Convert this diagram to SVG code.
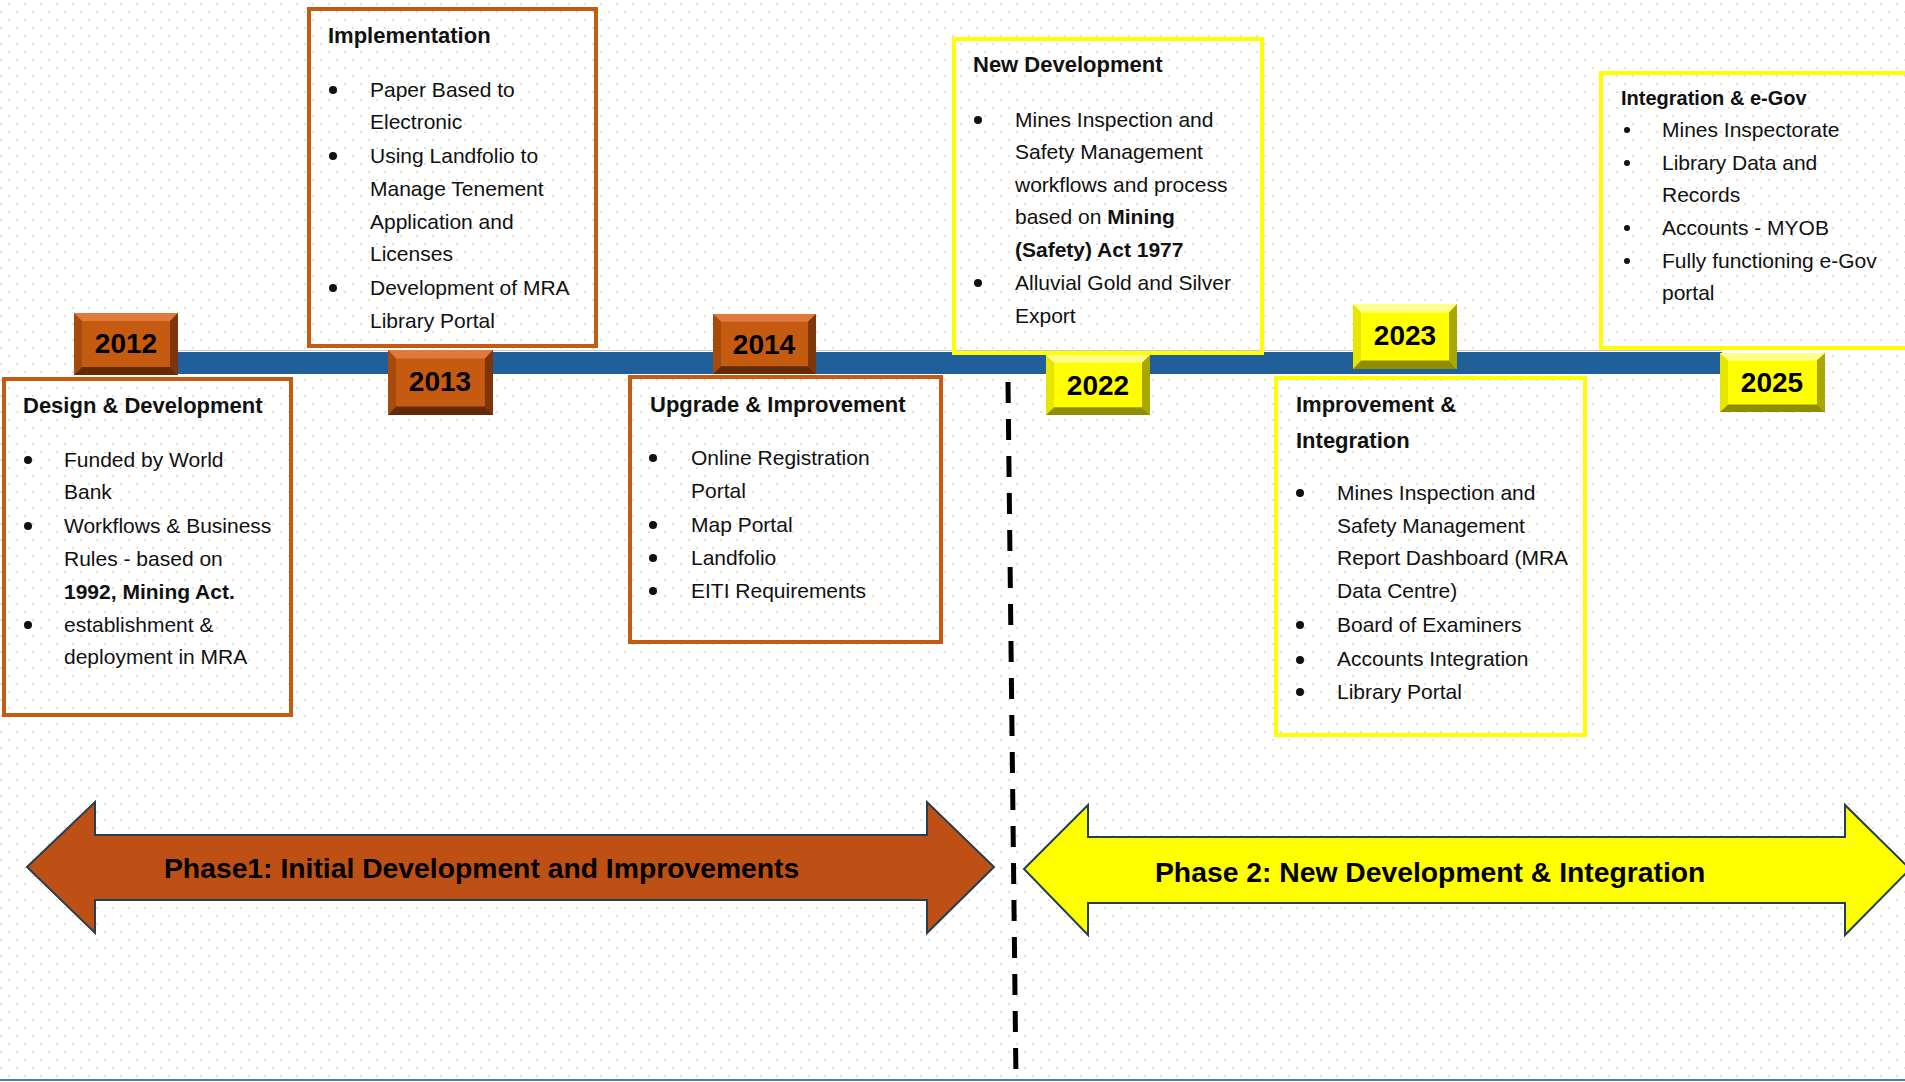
<svg xmlns="http://www.w3.org/2000/svg" width="1905" height="1082" viewBox="0 0 1905 1082">
<style>
.t{font-family:"Liberation Sans",Arial,sans-serif;font-size:21px;fill:#111}
.h{font-family:"Liberation Sans",Arial,sans-serif;font-size:22px;font-weight:bold;fill:#111}
.b{font-weight:bold}
.yr{font-family:"Liberation Sans",Arial,sans-serif;font-size:28px;font-weight:bold;fill:#000;text-anchor:middle}
.ph{font-family:"Liberation Sans",Arial,sans-serif;font-size:28.3px;font-weight:bold;fill:#000}
.ob{fill:none;stroke:#C55A11;stroke-width:4}
.yb{fill:none;stroke:#FFFF00;stroke-width:4}
.dot{fill:#111}
</style>
<defs>
<pattern id="dots" width="16" height="16" patternUnits="userSpaceOnUse">
<rect x="0" y="11" width="2" height="2" fill="#E4E2D6"/>
<rect x="8" y="3" width="2" height="2" fill="#E4E2D6"/>
</pattern>
<symbol id="bevO" viewBox="0 0 104 62" preserveAspectRatio="none">
<rect x="0" y="0" width="104" height="62" fill="#C55A11"/>
<polygon points="0,0 104,0 96,8 8,8" fill="#E07A3C"/>
<polygon points="0,0 8,8 8,54 0,62" fill="#A94A0D"/>
<polygon points="104,0 104,62 96,54 96,8" fill="#7E3509"/>
<polygon points="0,62 8,54 96,54 104,62" fill="#642A07"/>
</symbol>
<symbol id="bevY" viewBox="0 0 104 62" preserveAspectRatio="none">
<rect x="0" y="0" width="104" height="62" fill="#FFFF00"/>
<polygon points="0,0 104,0 96,8 8,8" fill="#FFFF8C"/>
<polygon points="0,0 8,8 8,54 0,62" fill="#E6E600"/>
<polygon points="104,0 104,62 96,54 96,8" fill="#A8A800"/>
<polygon points="0,62 8,54 96,54 104,62" fill="#8E8E00"/>
</symbol>
</defs>
<rect width="1905" height="1082" fill="#FFFFFF"/>
<rect width="1905" height="1082" fill="url(#dots)"/>

<g id="connectors">
<line x1="176" y1="350.5" x2="1722" y2="350.5" stroke="#C8C8C8" stroke-width="1"/>
<rect x="176" y="352" width="1546" height="22" fill="#215F9A"/>
<line x1="1008" y1="382" x2="1016" y2="1082" stroke="#000" stroke-width="5" stroke-dasharray="21 16"/>
<line x1="0" y1="1080" x2="1905" y2="1080" stroke="#4A7EBB" stroke-width="2"/>
</g>

<g id="box-design">
<rect class="ob" x="4" y="379" width="287" height="336"/>
<text class="h" x="23" y="413">Design &amp; Development</text>
<circle class="dot" cx="28" cy="460" r="4"/>
<circle class="dot" cx="28" cy="526" r="4"/>
<circle class="dot" cx="28" cy="625" r="4"/>
<text class="t" x="64" y="467">Funded by World</text>
<text class="t" x="64" y="499">Bank</text>
<text class="t" x="64" y="533">Workflows &amp; Business</text>
<text class="t" x="64" y="566">Rules - based on</text>
<text class="t b" x="64" y="599">1992, Mining Act.</text>
<text class="t" x="64" y="632">establishment &amp;</text>
<text class="t" x="64" y="664">deployment in MRA</text>
</g>

<g id="box-implementation">
<rect class="ob" x="309" y="9" width="287" height="337"/>
<text class="h" x="328" y="43">Implementation</text>
<circle class="dot" cx="333" cy="90" r="4"/>
<circle class="dot" cx="333" cy="156" r="4"/>
<circle class="dot" cx="333" cy="288" r="4"/>
<text class="t" x="370" y="97">Paper Based to</text>
<text class="t" x="370" y="129">Electronic</text>
<text class="t" x="370" y="163">Using Landfolio to</text>
<text class="t" x="370" y="196">Manage Tenement</text>
<text class="t" x="370" y="229">Application and</text>
<text class="t" x="370" y="261">Licenses</text>
<text class="t" x="370" y="295">Development of MRA</text>
<text class="t" x="370" y="328">Library Portal</text>
</g>

<g id="box-upgrade">
<rect class="ob" x="630" y="377" width="311" height="265"/>
<text class="h" x="650" y="412">Upgrade &amp; Improvement</text>
<circle class="dot" cx="653" cy="458" r="4"/>
<circle class="dot" cx="653" cy="525" r="4"/>
<circle class="dot" cx="653" cy="558" r="4"/>
<circle class="dot" cx="653" cy="591" r="4"/>
<text class="t" x="691" y="465">Online Registration</text>
<text class="t" x="691" y="498">Portal</text>
<text class="t" x="691" y="532">Map Portal</text>
<text class="t" x="691" y="565">Landfolio</text>
<text class="t" x="691" y="598">EITI Requirements</text>
</g>

<g id="box-newdev">
<rect class="yb" x="954" y="39" width="308" height="314"/>
<text class="h" x="973" y="72">New Development</text>
<circle class="dot" cx="978" cy="120" r="4"/>
<circle class="dot" cx="978" cy="283" r="4"/>
<text class="t" x="1015" y="127">Mines Inspection and</text>
<text class="t" x="1015" y="159">Safety Management</text>
<text class="t" x="1015" y="192">workflows and process</text>
<text class="t" x="1015" y="224">based on <tspan class="b">Mining</tspan></text>
<text class="t b" x="1015" y="257">(Safety) Act 1977</text>
<text class="t" x="1015" y="290">Alluvial Gold and Silver</text>
<text class="t" x="1015" y="323">Export</text>
</g>

<g id="box-improvement">
<rect class="yb" x="1276" y="378" width="309" height="357"/>
<text class="h" x="1296" y="412">Improvement &amp;</text>
<text class="h" x="1296" y="448">Integration</text>
<circle class="dot" cx="1300" cy="493" r="4"/>
<circle class="dot" cx="1300" cy="625" r="4"/>
<circle class="dot" cx="1300" cy="660" r="4"/>
<circle class="dot" cx="1300" cy="692" r="4"/>
<text class="t" x="1337" y="500">Mines Inspection and</text>
<text class="t" x="1337" y="533">Safety Management</text>
<text class="t" x="1337" y="565">Report Dashboard (MRA</text>
<text class="t" x="1337" y="598">Data Centre)</text>
<text class="t" x="1337" y="632">Board of Examiners</text>
<text class="t" x="1337" y="666">Accounts Integration</text>
<text class="t" x="1337" y="699">Library Portal</text>
</g>

<g id="box-egov">
<rect class="yb" x="1601" y="73" width="330" height="275"/>
<text class="h" x="1621" y="105" style="font-size:20px">Integration &amp; e-Gov</text>
<circle class="dot" cx="1627" cy="130" r="3"/>
<circle class="dot" cx="1627" cy="163" r="3"/>
<circle class="dot" cx="1627" cy="228" r="3"/>
<circle class="dot" cx="1627" cy="261" r="3"/>
<text class="t" x="1662" y="137">Mines Inspectorate</text>
<text class="t" x="1662" y="170">Library Data and</text>
<text class="t" x="1662" y="202">Records</text>
<text class="t" x="1662" y="235">Accounts - MYOB</text>
<text class="t" x="1662" y="268">Fully functioning e-Gov</text>
<text class="t" x="1662" y="300">portal</text>
</g>

<g id="year-2012">
<use href="#bevO" x="74" y="313" width="104" height="62"/>
<text class="yr" x="126" y="353">2012</text>
</g>
<g id="year-2013">
<use href="#bevO" x="388" y="350" width="105" height="65"/>
<text class="yr" x="440" y="391">2013</text>
</g>
<g id="year-2014">
<use href="#bevO" x="713" y="314" width="103" height="60"/>
<text class="yr" x="764" y="354">2014</text>
</g>
<g id="year-2022">
<use href="#bevY" x="1046" y="355" width="104" height="60"/>
<text class="yr" x="1098" y="395">2022</text>
</g>
<g id="year-2023">
<use href="#bevY" x="1353" y="304" width="104" height="65"/>
<text class="yr" x="1405" y="345">2023</text>
</g>
<g id="year-2025">
<use href="#bevY" x="1720" y="353" width="105" height="59"/>
<text class="yr" x="1772" y="392">2025</text>
</g>

<g id="phase1">
<polygon points="27,867 95,802 95,835 927,835 927,802 994,867 927,933 927,900 95,900 95,933" fill="#BE5016" stroke="#243F52" stroke-width="2"/>
<text class="ph" x="164" y="878">Phase1: Initial Development and Improvements</text>
</g>
<g id="phase2">
<polygon points="1024,869 1088,805 1088,837 1845,837 1845,805 1910,869 1845,935 1845,903 1088,903 1088,935" fill="#FFFF00" stroke="#243F52" stroke-width="2"/>
<text class="ph" x="1155" y="882">Phase 2: New Development &amp; Integration</text>
</g>
</svg>
